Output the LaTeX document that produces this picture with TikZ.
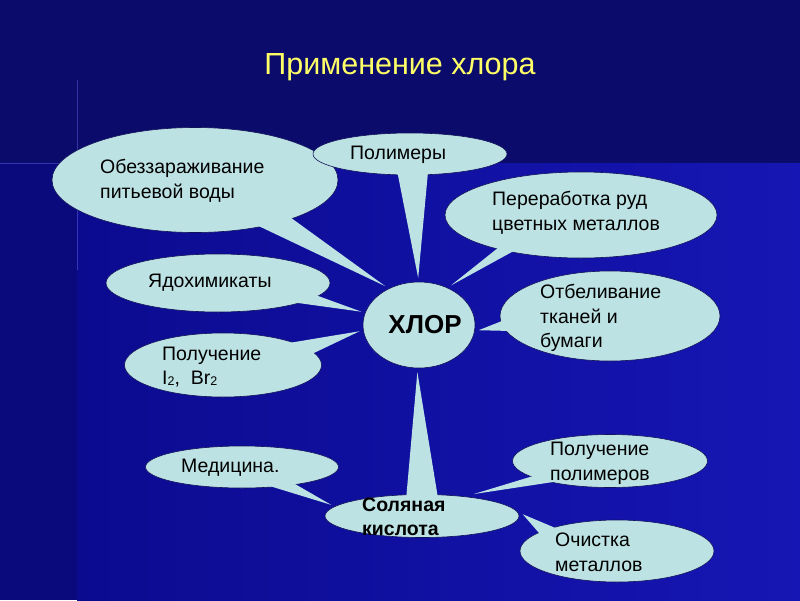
\documentclass[tikz,border=0pt]{standalone}
\usepackage{fontspec}
\setmainfont{Liberation Sans}
\usetikzlibrary{calc,shapes.geometric}

\definecolor{topblue}{HTML}{0B0B6C}
\definecolor{sideblue}{HTML}{0A0A7C}
\definecolor{mainblue}{HTML}{0B0B90}
\definecolor{mainblueR}{HTML}{1616B4}
\definecolor{bubblecol}{HTML}{BDE2E3}
\definecolor{edgecol}{HTML}{12125A}
\definecolor{titlecol}{HTML}{FFFF66}

% tail of a callout: node, two angles on it, tip
\newcommand{\calltail}[4]{\fill[tail] ($(#1.center)!.8!(#1.#2)$) -- (#4) -- ($(#1.center)!.8!(#1.#3)$) -- cycle;}

\newcommand{\subtwo}{\raisebox{-1pt}{\fontsize{12.5}{12.5}\selectfont 2}}

\begin{document}
\begin{tikzpicture}[x=1pt, y=-1pt,
  bubble/.style={ellipse, fill=bubblecol, draw=edgecol, line width=0.6pt, inner sep=0pt, outer sep=0pt},
  tail/.style={fill=bubblecol},
  txt/.style={anchor=west, align=left, inner sep=0pt, font=\fontsize{19.5}{24.7}\selectfont},
  flare/.style={color=blue!55!white, opacity=0.4, line width=1pt}]
\useasboundingbox (0,0) rectangle (800,600);

% background
\fill[topblue] (0,0) rectangle (800,600);
\fill[sideblue] (0,163) rectangle (77,600);
\shade[left color=mainblue, right color=mainblueR] (77,163) rectangle (800,600);
\draw[flare] (77,80) -- (77,270);
\draw[flare] (0,163) -- (180,163);

\node (title) at (400,67) {\fontsize{30.5}{30.5}\selectfont\color{titlecol}Применение хлора};

% centre
\node[bubble, minimum width=112, minimum height=86, outer sep=4pt] (hlor) at (419,325) {};

% callouts round the centre
\node[bubble, minimum width=286, minimum height=105] (obez) at (195,180) {};
\calltail{obez}{-39}{-19}{hlor.131}
\node[bubble, minimum width=194, minimum height=42] (polim) at (410,154) {};
\calltail{polim}{-128}{-42}{hlor.91}
\node[bubble, minimum width=272, minimum height=86] (pererab) at (581,215) {};
\calltail{pererab}{199}{208}{hlor.51}
\node[bubble, minimum width=224, minimum height=58] (yado) at (218,283) {};
\calltail{yado}{-5}{-16}{hlor.167}
\node[bubble, minimum width=197, minimum height=64] (polI) at (223,365) {};
\calltail{polI}{21}{4}{hlor.186}
\node[bubble, minimum width=220, minimum height=90] (otbel) at (610,316) {};
\calltail{otbel}{178}{191}{hlor.-5}

% hydrochloric acid and its callouts
\node[bubble, minimum width=194, minimum height=43, outer sep=4pt] (sol) at (422,516) {};
\calltail{sol}{128}{52}{hlor.-92}
\node[bubble, minimum width=193, minimum height=42] (med) at (242,467) {};
\calltail{med}{-16}{-41}{sol.173}
\node[bubble, minimum width=195, minimum height=53] (polym) at (610,461) {};
\calltail{polym}{190}{205}{sol.23}
\node[bubble, minimum width=194, minimum height=62] (ocis) at (617,551) {};
\calltail{ocis}{160}{172}{sol.1}

% texts
\node[font=\fontsize{26}{26}\selectfont\bfseries] (hlor-t) at (425,325) {ХЛОР};
\node[txt] (obez-t) at (100,181) {Обеззараживание\\питьевой воды};
\node[txt] (polim-t) at (350,155) {Полимеры};
\node[txt] (pererab-t) at (492,213) {Переработка руд\\цветных металлов};
\node[txt] (yado-t) at (148,283) {Ядохимикаты};
\node[txt] (polI-t) at (162,367) {Получение\\I\subtwo,\ \ Br\subtwo};
\node[txt] (otbel-t) at (540,318) {Отбеливание\\тканей и\\бумаги};
\node[txt] (med-t) at (181,468) {Медицина.};
\node[txt] (polym-t) at (550,463) {Получение\\полимеров};
\node[txt, font=\fontsize{19.5}{23.5}\selectfont\bfseries] (sol-t) at (362,517) {Соляная\\кислота};
\node[txt] (ocis-t) at (555,552) {Очистка\\металлов};

\end{tikzpicture}
\end{document}
